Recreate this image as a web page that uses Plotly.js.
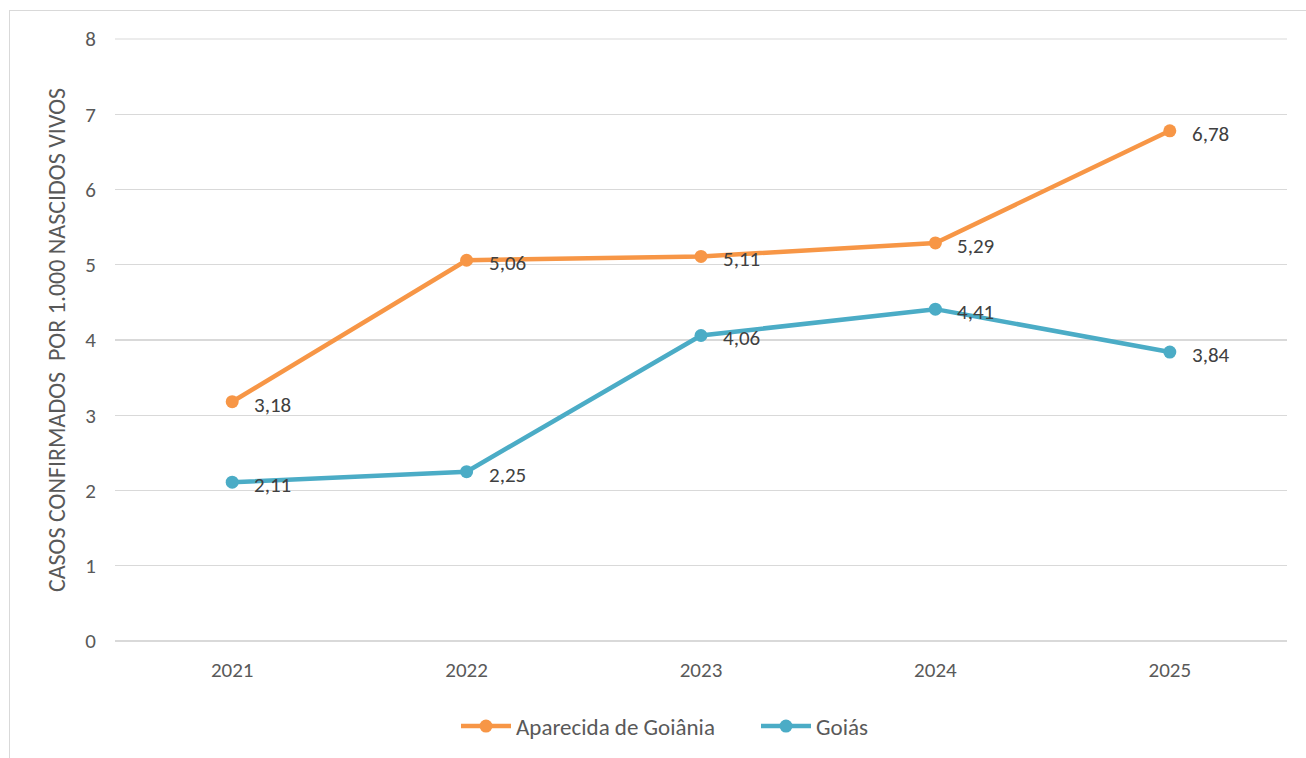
<!DOCTYPE html>
<html><head><meta charset="utf-8">
<script src="https://cdn.plot.ly/plotly-3.0.1.min.js"></script>
<style>html,body{margin:0;padding:0;background:#fff;overflow:hidden}
#frame{position:absolute;left:9px;top:10px;width:1400px;height:900px;border:1.5px solid #d9d9d9;box-sizing:border-box}
#chart{position:absolute;left:0;top:0;width:1306px;height:758px}</style>
</head><body>
<div id="frame"></div>
<div id="chart"></div>
<script>
const years = ['2021','2022','2023','2024','2025'];
const aparecida = [3.18, 5.06, 5.11, 5.29, 6.78];
const goias = [2.11, 2.25, 4.06, 4.41, 3.84];
const yTicks = [0,1,2,3,4,5,6,7,8];
const seriesNames = ['Aparecida de Goiânia','Goiás'];
const colors = ['#F79646','#4BACC6'];
const fontFam = 'Carlito, Calibri, Lato, "Open Sans", sans-serif';

function fmt(v){ return v.toFixed(2).replace('.',','); }

const traces = [aparecida, goias].map((vals,i)=>({
  x: years, y: vals, name: seriesNames[i], type:'scatter', mode:'lines+markers',
  line:{color:colors[i], width:4.5}, marker:{color:colors[i], size:13},
  hoverinfo:'none'
}));

const annotations = [];
[aparecida, goias].forEach(vals=>{
  vals.forEach((v,j)=>{
    annotations.push({x:j, y:v, xref:'x', yref:'y', text:fmt(v), showarrow:false,
      xanchor:'left', yanchor:'middle', xshift:20, yshift:-3,
      font:{family:fontFam, size:21, color:'#404040'}});
  });
});

const layout = {
  width:1306, height:758,
  paper_bgcolor:'rgba(0,0,0,0)', plot_bgcolor:'rgba(0,0,0,0)',
  margin:{l:115, r:18.5, t:39, b:117, autoexpand:false},
  font:{family:fontFam, color:'#595959', size:21},
  showlegend:true,
  legend:{orientation:'h', x:456/1306, xref:'container', xanchor:'left', y:0.042, yref:'container', yanchor:'middle',
    font:{family:fontFam, size:23, color:'#595959'}, itemwidth:50, entrywidth:235, entrywidthmode:'pixels', traceorder:'normal'},
  xaxis:{type:'category', range:[-0.5,4.5], showline:false, showgrid:false, zeroline:false,
    tickfont:{family:fontFam, size:21, color:'#595959'}, ticks:'', ticklabelstandoff:14},
  yaxis:{range:[0,8], tickvals:yTicks, showgrid:true, gridcolor:'#d9d9d9', gridwidth:1.2,
    zeroline:true, zerolinecolor:'#d9d9d9', zerolinewidth:1.2, showline:false, ticks:'',
    tickfont:{family:fontFam, size:21, color:'#595959'}, ticklabelstandoff:18,
    title:{text:'CASOS CONFIRMADOS  POR 1.000 NASCIDOS VIVOS', standoff:12,
      font:{family:fontFam, size:24, color:'#595959'}}},
  shapes:[{type:'line', xref:'paper', yref:'paper', x0:0, x1:1, y0:1, y1:1, line:{color:'#d9d9d9', width:1.2}, layer:'below'}],
  annotations: annotations
};
Plotly.newPlot('chart', traces, layout, {displayModeBar:false, staticPlot:true});
</script>
</body></html>
